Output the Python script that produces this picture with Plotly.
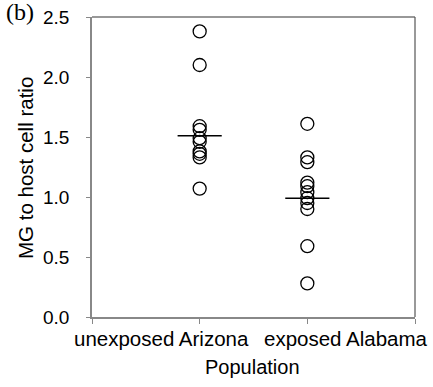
import plotly.graph_objects as go

# ---- data ----
categories = ["unexposed Arizona", "exposed Alabama"]
arizona = [2.38, 2.10, 1.59, 1.56, 1.49, 1.46, 1.38, 1.36, 1.33, 1.07]
alabama = [1.61, 1.33, 1.29, 1.12, 1.09, 1.04, 0.99, 0.95, 0.90, 0.59, 0.28]
means = [1.51, 0.99]
y_ticks = [0.0, 0.5, 1.0, 1.5, 2.0, 2.5]

# ---- layout constants ----
W, H = 433, 387
L, R, T, B = 92, 18, 17, 70
plot_w = W - L - R
plot_h = H - T - B
FONT = "Liberation Sans, Arial, sans-serif"

def px_to_paper_x(px):
    return (px - L) / plot_w

def px_to_paper_y(py):
    return (H - B - py) / plot_h

series = [arizona, alabama]
label_centers = [0.65, 2.36]   # x positions (axis units) of category label centres
half_w = 0.205

fig = go.Figure()
for i, vals in enumerate(series):
    xpos = i + 1
    fig.add_trace(go.Scatter(
        x=[xpos] * len(vals), y=vals, mode="markers",
        marker=dict(symbol="circle-open", size=13, color="black",
                    line=dict(width=1.3, color="black")),
        showlegend=False, hoverinfo="y"))
    fig.add_trace(go.Scatter(
        x=[xpos - half_w, xpos + half_w], y=[means[i], means[i]], mode="lines",
        line=dict(color="black", width=1.6), showlegend=False, hoverinfo="y"))

annotations = []
for name, cx in zip(categories, label_centers):
    annotations.append(dict(
        x=cx, xref="x", y=px_to_paper_y(338), yref="paper",
        text=name, showarrow=False, xanchor="center", yanchor="middle",
        font=dict(family=FONT, size=20.5, color="black")))
annotations.append(dict(
    x=px_to_paper_x(252.5), xref="paper", y=px_to_paper_y(367), yref="paper",
    text="Population", showarrow=False, xanchor="center", yanchor="middle",
    font=dict(family=FONT, size=20, color="black")))
annotations.append(dict(
    x=px_to_paper_x(25), xref="paper", y=px_to_paper_y(168), yref="paper",
    text="MG to host cell ratio", showarrow=False, textangle=-90,
    xanchor="center", yanchor="middle",
    font=dict(family=FONT, size=20.5, color="black")))
annotations.append(dict(
    x=px_to_paper_x(20), xref="paper", y=px_to_paper_y(12), yref="paper",
    text="(b)", showarrow=False, xanchor="center", yanchor="middle",
    font=dict(family="Liberation Serif, Times New Roman, serif", size=24, color="black")))

shapes = [
    dict(type="line", xref="paper", yref="paper", x0=0, x1=1, y0=1, y1=1,
         line=dict(color="#333333", width=1.2)),
    dict(type="line", xref="paper", yref="paper", x0=1, x1=1, y0=0, y1=1,
         line=dict(color="#555555", width=1.2)),
]

fig.update_layout(
    width=W, height=H,
    margin=dict(l=L, r=R, t=T, b=B, autoexpand=False),
    paper_bgcolor="white", plot_bgcolor="white",
    annotations=annotations, shapes=shapes,
    xaxis=dict(range=[0, 3], tickvals=[0, 1, 2, 3], showticklabels=False,
               ticks="outside", ticklen=5, tickcolor="#888888", tickwidth=1.2,
               showline=True, linecolor="#888888", linewidth=1.5,
               showgrid=False, zeroline=False, fixedrange=True),
    yaxis=dict(range=[0, 2.5], tickvals=y_ticks, tickformat=".1f",
               ticks="outside", ticklen=4, tickcolor="#888888", tickwidth=1.2,
               ticklabelstandoff=13,
               showline=True, linecolor="#888888", linewidth=1.5,
               showgrid=False, zeroline=False,
               tickfont=dict(family=FONT, size=19, color="black")),
)

fig.write_html("out.html")
